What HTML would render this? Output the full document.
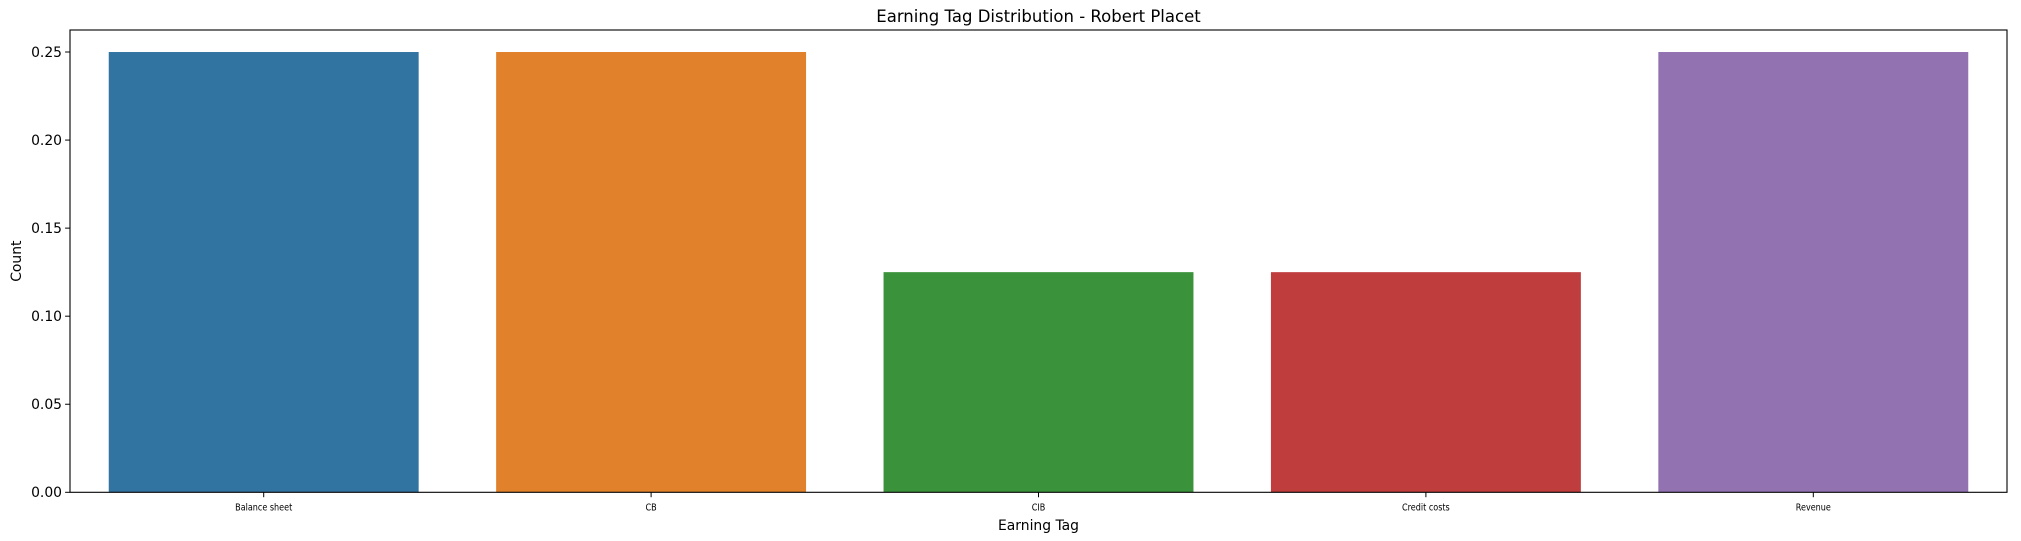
<!DOCTYPE html>
<html><head><meta charset="utf-8"><style>
html,body{margin:0;padding:0;background:#fff;}
svg{display:block;font-family:"DejaVu Sans","Liberation Sans",sans-serif;}
</style></head><body>
<svg id="chart" width="2021" height="541"></svg>
<script>
const categories = ["Balance sheet","CB","CIB","Credit costs","Revenue"];
const counts = [0.25,0.25,0.125,0.125,0.25];
const barColors = ["#3274a1","#e1812c","#3a923a","#c03d3e","#9372b2"];
const yTicks = [0,0.05,0.10,0.15,0.20,0.25];
const yTickLabels = ["0.00","0.05","0.10","0.15","0.20","0.25"];

const NS="http://www.w3.org/2000/svg";
const svg=document.getElementById('chart');
const L=70,R=2007,T=30,B=492.3;
const yMax=0.2625;
const y=v=>B-(v/yMax)*(B-T);
const slot=(R-L)/categories.length;
const xc=i=>L+slot*(i+0.5);
function mk(tag,attrs){const e=document.createElementNS(NS,tag);for(const k in attrs)e.setAttribute(k,attrs[k]);svg.appendChild(e);return e;}

categories.forEach((c,i)=>{
  const w=slot*0.8;
  const r=mk('rect',{x:xc(i)-w/2,y:y(counts[i]),width:w,height:B-y(counts[i]),fill:barColors[i]});
  
  
  const t=mk('line',{x1:xc(i),x2:xc(i),y1:B,y2:B+4.9,stroke:'#000','stroke-width':1});
  
  
  const lb=mk('text',{x:0,y:0,'font-size':9.5,'text-anchor':'middle',fill:'#000',transform:`translate(${xc(i)},${B+18}) scale(0.85,1)`});
  lb.textContent=c;
  
  
});

yTicks.forEach((v,i)=>{
  const t=mk('line',{x1:L-4.9,x2:L,y1:y(v),y2:y(v),stroke:'#000','stroke-width':1});
  
  
  const lb=mk('text',{x:L-8,y:y(v)+4.8,'font-size':13.9,'text-anchor':'end',fill:'#000'});
  lb.textContent=yTickLabels[i];
  
  
});

const frame=mk('rect',{x:L,y:T,width:R-L,height:B-T,fill:'none',stroke:'#000','stroke-width':1.1});



const title=mk('text',{x:(L+R)/2,y:22,'font-size':16.5,'text-anchor':'middle',fill:'#000'});
title.textContent='Earning Tag Distribution - Robert Placet';



const xl=mk('text',{x:(L+R)/2,y:530,'font-size':13.9,'text-anchor':'middle',fill:'#000'});
xl.textContent='Earning Tag';



const yl=mk('text',{x:0,y:0,'font-size':13.9,'text-anchor':'middle',fill:'#000',transform:`translate(21,${(T+B)/2}) rotate(-90)`});
yl.textContent='Count';


</script>
</body></html>
